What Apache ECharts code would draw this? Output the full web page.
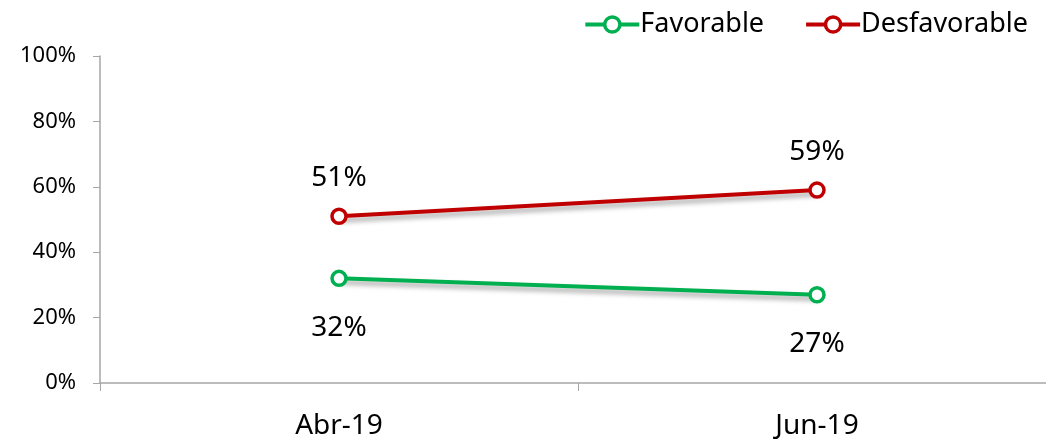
<!DOCTYPE html>
<html><head><meta charset="utf-8">
<script src="https://cdn.jsdelivr.net/npm/echarts@6/dist/echarts.min.js"></script>
<style>html,body{margin:0;padding:0;background:#fff;overflow:hidden}#c{width:1056px;height:443px}</style>
</head><body><div id="c"></div>
<script>
const categories = ['Abr-19', 'Jun-19'];
const favorable = [32, 27];
const desfavorable = [51, 59];
const yTicks = [0, 20, 40, 60, 80, 100];

const font = '"Noto Sans", "Open Sans", sans-serif';
const chart = echarts.init(document.getElementById('c'), null, {renderer: 'canvas'});
const shadow = {shadowColor: 'rgba(0,0,0,0.35)', shadowBlur: 5, shadowOffsetX: 2, shadowOffsetY: 4};
chart.setOption({
  animation: false,
  grid: {left: 100, right: 0, top: 56, bottom: 60, containLabel: false},
  legend: {
    right: 23, top: 6, itemWidth: 54, itemHeight: 19, itemGap: 40,
    textStyle: {fontFamily: font, fontSize: 27, color: '#000', padding: [0,0,0,-4]},
    lineStyle: {width: 4, shadowBlur: 0, shadowOffsetX: 0, shadowOffsetY: 0},
    itemStyle: {borderWidth: 3.5},
    data: ['Favorable', 'Desfavorable']
  },
  xAxis: {
    type: 'category', data: categories, boundaryGap: true,
    axisLine: {lineStyle: {color: '#a6a6a6', width: 1.5}},
    axisTick: {show: true, length: 8, lineStyle: {color: '#a6a6a6'}},
    axisLabel: {fontFamily: font, fontSize: 28, color: '#000', margin: 29}
  },
  yAxis: {
    type: 'value', min: 0, max: 100, interval: 20,
    axisLine: {show: true, lineStyle: {color: '#a6a6a6', width: 1.5}},
    axisTick: {show: true, length: 7, lineStyle: {color: '#a6a6a6'}},
    splitLine: {show: false},
    axisLabel: {fontFamily: font, fontSize: 22, color: '#000', margin: 24,
      formatter: v => yTicks.includes(v) ? v + '%' : ''}
  },
  series: [
    {
      name: 'Favorable', type: 'line', data: favorable, color: '#00b050',
      symbol: 'circle', symbolSize: 14,
      itemStyle: {color: '#fff', borderColor: '#00b050', borderWidth: 3.5},
      lineStyle: Object.assign({color: '#00b050', width: 4}, shadow),
      label: {show: true, position: 'bottom', distance: 27, fontFamily: font, fontSize: 28, color: '#000',
        formatter: p => p.value + '%'}
    },
    {
      name: 'Desfavorable', type: 'line', data: desfavorable, color: '#c00000',
      symbol: 'circle', symbolSize: 14,
      itemStyle: {color: '#fff', borderColor: '#c00000', borderWidth: 3.5},
      lineStyle: Object.assign({color: '#c00000', width: 4}, shadow),
      label: {show: true, position: 'top', distance: 15, fontFamily: font, fontSize: 28, color: '#000',
        formatter: p => p.value + '%'}
    }
  ]
});
</script></body></html>
